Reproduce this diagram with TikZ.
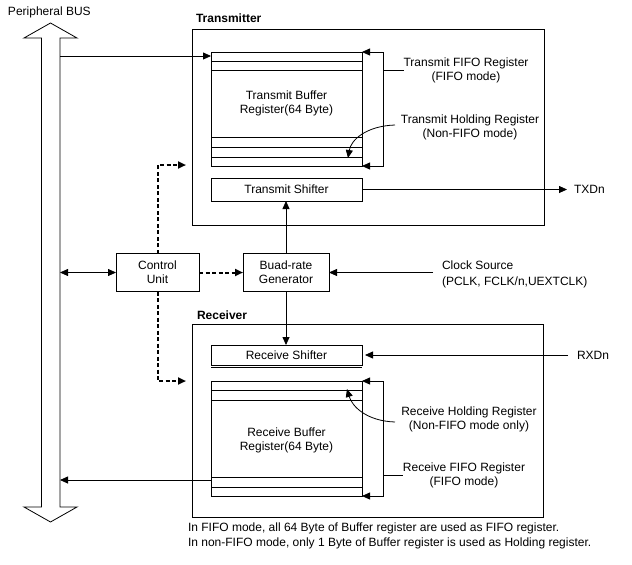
\documentclass[tikz,border=0pt]{standalone}
\usepackage{fontspec}
\setmainfont{Liberation Sans}
\usetikzlibrary{arrows.meta}
\begin{document}
\begin{tikzpicture}[x=1pt,y=-1pt,
  every node/.style={font=\fontsize{12}{14}\selectfont, inner sep=0pt, outer sep=0pt},
  ln/.style={line width=0.8pt},
  box/.style={draw, ln, rectangle},
  tip/.tip={Triangle[length=8pt,width=7pt]},
  arr/.style={ln, -tip},
  darr/.style={ln, tip-tip},
  dsh/.style={line width=2pt, dash pattern=on 4pt off 2.5pt, -tip},
  lbl/.style={align=center},
  ttl/.style={font=\bfseries\fontsize{12}{14}\selectfont, anchor=west},
]
\useasboundingbox (0,0) rectangle (632,565);
\fill[white] (0,0) rectangle (632,565);

% Peripheral bus
\draw[ln, fill=white] (41.5,38) -- (24,38) -- (50.5,23) -- (77,38) -- (60,38) -- (60,507)
  -- (77,507) -- (50.5,522) -- (24,507) -- (41.5,507) -- cycle;
\node[anchor=west] (bus) at (8,12) {Peripheral BUS};
\coordinate (busTx) at (60,56);
\coordinate (busCtrl) at (60,272.5);
\coordinate (busRx) at (60,480);

% Transmitter
\node[box, minimum width=352pt, minimum height=196pt] (tx) at (368,127) {};
\node[ttl] (txt) at (196,18) {Transmitter};
\node[box, minimum width=151pt, minimum height=114pt] (txbuf) at (286.5,109) {};
\node[lbl] (txbuftext) at (286.5,103) {Transmit Buffer\\Register(64 Byte)};
\foreach \yy in {61,70,137,147,157} \draw[ln] (211,\yy) -- (362,\yy);
\node[box, minimum width=151pt, minimum height=23pt] (txsh) at (286.5,189.5) {Transmit Shifter};

\node[lbl] (txfifo) at (466,70) {Transmit FIFO Register\\(FIFO mode)};
\node[lbl] (txhold) at (470,127) {Transmit Holding Register\\(Non-FIFO mode)};
\coordinate (txbrm) at (383,70);
\draw[darr] (txbuf.north east) -- (txbrm |- txbuf.north east) -- (txbrm |- txbuf.south east) -- (txbuf.south east);
\draw[ln] (txbrm) -- (txfifo.west);
\coordinate (txhc) at (395,125);
\draw[arr] (txhc) .. controls (366,126) and (351,140) .. (348,158);

\node[anchor=west] (txd) at (574,189.5) {TXDn};
\coordinate (txdend) at ([xshift=-7pt]txd.west);
\draw[arr] (txsh.east) -- (txdend |- txsh.east);

% Control / baud
\node[box, lbl, minimum width=83pt, minimum height=38pt] (ctrl) at (157.5,272.5) {Control\\Unit};
\node[box, lbl, minimum width=86pt, minimum height=38pt] (baud) at (286,272.5) {Buad-rate\\Generator};
\draw[darr] (busCtrl) -- (ctrl.west);
\draw[dsh] (ctrl.east) -- (baud.west);
\coordinate (txin) at (186,165);
\coordinate (rxin) at (186,381);
\draw[dsh] (ctrl.north) |- (txin);
\draw[dsh] (ctrl.south) |- (rxin);
\draw[arr] (baud.north) -- (baud.north |- txsh.south);

\node[anchor=west, align=left, font=\fontsize{12}{16.5}\selectfont] (clk) at (442,274.5) {Clock Source\\(PCLK, FCLK/n,UEXTCLK)};
\coordinate (clkend) at (433,272.5);
\draw[arr] (clkend) -- (baud.east);

% Bus to transmit buffer
\draw[arr] (busTx) -- (busTx -| txbuf.west);

% Receiver
\node[box, minimum width=351pt, minimum height=193pt] (rx) at (367.5,420.5) {};
\node[ttl] (rxt) at (197,315) {Receiver};
\node[box, minimum width=151pt, minimum height=20pt] (rxsh) at (286.5,355) {Receive Shifter};
\draw[ln] (211,367) -- (362,367);
\draw[arr] (baud.south) -- (baud.south |- rxsh.north);

\node[box, minimum width=151pt, minimum height=115pt] (rxbuf) at (286.5,438.5) {};
\node[lbl] (rxbuftext) at (286.5,440) {Receive Buffer\\Register(64 Byte)};
\foreach \yy in {390,400,477,487} \draw[ln] (211,\yy) -- (362,\yy);

\node[anchor=west] (rxd) at (577,355) {RXDn};
\coordinate (rxdend) at ([xshift=-9pt]rxd.west);
\draw[arr, shorten >=3pt] (rxdend |- rxsh.east) -- (rxsh.east);

\node[lbl] (rxhold) at (469,419) {Receive Holding Register\\(Non-FIFO mode only)};
\node[lbl] (rxfifo) at (464,475) {Receive FIFO Register\\(FIFO mode)};
\coordinate (rxbrm) at (383,475);
\draw[darr] (rxbuf.north east) -- (rxbrm |- rxbuf.north east) -- (rxbrm |- rxbuf.south east) -- (rxbuf.south east);
\draw[ln] (rxbrm) -- (rxfifo.west);
\coordinate (rxhc) at (395,422);
\draw[arr] (rxhc) .. controls (366,421) and (352,406) .. (347,389);

\draw[arr] (busRx -| rxbuf.west) -- (busRx);

% Note
\node[anchor=west, align=left, font=\fontsize{12}{15}\selectfont] (note) at (188,536)
  {In FIFO mode, all 64 Byte of Buffer register are used as FIFO register.\\In non-FIFO mode, only 1 Byte of Buffer register is used as Holding register.};
\end{tikzpicture}
\end{document}
